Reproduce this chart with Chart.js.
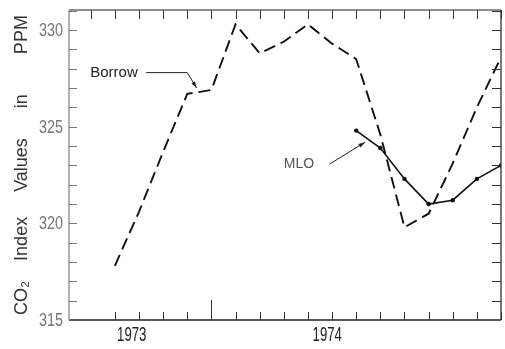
<!DOCTYPE html>
<html>
<head>
<meta charset="utf-8">
<script src="https://cdn.jsdelivr.net/npm/chart.js@4.4.0/dist/chart.umd.min.js"></script>
<style>
  html, body { margin: 0; padding: 0; background: #fff; }
  #wrap { width: 505px; height: 349px; }
</style>
</head>
<body>
<div id="wrap"><canvas id="co2-chart"></canvas></div>
<script>
// one sample per tick mark along the time axis
const samples = [0, 1, 2, 3, 4, 5, 6, 7, 8, 9, 10, 11, 12, 13, 14, 15, 16];
const borrow = [317.8, 320.6, 323.7, 326.7, 326.9, 330.3, 328.8, 329.4, 330.3, 329.3,
                328.5, 324.6, 319.8, 320.5, 323.1, 326.0, 328.6];
const mlo = [null, null, null, null, null, null, null, null, null, null,
             324.8, 323.9, 322.3, 321.0, 321.2, 322.3, 323.0];
const yearLabels = ['1973', '1974'];
const yearTicks = [0.7, 8.8];
const yLabelled = [315, 320, 325, 330];

const toPoints = vals => samples.map((s, i) => ({ x: s, y: vals[i] })).filter(p => p.y !== null);

// label callouts, anchored in axis units
const callouts = [
  { text: 'Borrow', textAt: [0.95, 327.8], path: [[1.3, 327.8], [3.0, 327.8], [3.39, 327.0]], font: '15px "Liberation Sans"', color: '#222' },
  { text: 'MLO', textAt: [8.26, 323.07], path: [[8.9, 323.07], [10.37, 324.2]], font: '14px "Liberation Sans"', color: '#555' }
];

function arrowHead(ctx, x0, y0, x1, y1) {
  const ang = Math.atan2(y1 - y0, x1 - x0);
  ctx.beginPath();
  ctx.moveTo(x1, y1);
  ctx.lineTo(x1 - 7 * Math.cos(ang - 0.3), y1 - 7 * Math.sin(ang - 0.3));
  ctx.lineTo(x1 - 7 * Math.cos(ang + 0.3), y1 - 7 * Math.sin(ang + 0.3));
  ctx.closePath();
  ctx.fill();
}

// narrow lettering like the original typeset labels
function squeezedText(ctx, text, px, py, sx, align) {
  ctx.save();
  ctx.translate(px, py);
  ctx.scale(sx, 1);
  ctx.textAlign = align;
  ctx.fillText(text, 0, 0);
  ctx.restore();
}

const frame = {
  id: 'frame',
  afterDatasetsDraw(chart) {
    const { ctx, chartArea: a, scales: { x, y } } = chart;
    ctx.save();
    // box
    ctx.lineWidth = 1.2;
    ctx.strokeStyle = '#222';
    ctx.beginPath();
    ctx.moveTo(a.left, a.top); ctx.lineTo(a.right, a.top);
    ctx.moveTo(a.right, a.top); ctx.lineTo(a.right, a.bottom);
    ctx.stroke();
    ctx.lineWidth = 1.5;
    ctx.beginPath();
    ctx.moveTo(a.left, a.bottom); ctx.lineTo(a.right, a.bottom);
    ctx.stroke();
    ctx.strokeStyle = '#999';
    ctx.beginPath();
    ctx.moveTo(a.left, a.top); ctx.lineTo(a.left, a.bottom);
    ctx.stroke();

    // inward ticks, time axis
    ctx.lineWidth = 1;
    ctx.strokeStyle = '#333';
    for (let t = Math.ceil(x.min); t <= x.max; t++) {
      const px = Math.round(x.getPixelForValue(t)) + 0.5;
      ctx.beginPath();
      ctx.moveTo(px, a.top); ctx.lineTo(px, a.top + 9);
      if (t >= 0) {
        ctx.moveTo(px, a.bottom); ctx.lineTo(px, a.bottom - (t === 4 ? 20 : 8));
      }
      ctx.stroke();
    }
    // inward ticks, ppm axis
    for (let v = Math.ceil(y.min) + 1; v <= y.max; v++) {
      const py = Math.round(y.getPixelForValue(v)) + 0.5;
      ctx.strokeStyle = '#777';
      ctx.beginPath();
      ctx.moveTo(a.left, py); ctx.lineTo(a.left + 8, py);
      ctx.stroke();
      ctx.strokeStyle = '#333';
      ctx.beginPath();
      ctx.moveTo(a.right, py); ctx.lineTo(a.right - 9, py);
      ctx.stroke();
    }

    // tick labels
    ctx.textBaseline = 'middle';
    ctx.font = '20px "Liberation Sans", sans-serif';
    ctx.fillStyle = '#222';
    yearLabels.forEach((lab, i) => {
      squeezedText(ctx, lab, x.getPixelForValue(yearTicks[i]), a.bottom + 15, 0.66, 'center');
    });
    ctx.font = '18px "Liberation Sans", sans-serif';
    ctx.fillStyle = '#777';
    yLabelled.forEach(v => {
      squeezedText(ctx, String(v), a.left - 6, y.getPixelForValue(v) + 1, 0.8, 'right');
    });

    // callouts
    callouts.forEach(c => {
      ctx.font = c.font;
      ctx.fillStyle = c.color;
      ctx.textAlign = 'right';
      ctx.textBaseline = 'middle';
      ctx.fillText(c.text, x.getPixelForValue(c.textAt[0]), y.getPixelForValue(c.textAt[1]));
      const pts = c.path.map(p => [x.getPixelForValue(p[0]), y.getPixelForValue(p[1])]);
      ctx.strokeStyle = '#222';
      ctx.fillStyle = '#222';
      ctx.lineWidth = 1;
      ctx.beginPath();
      pts.forEach((p, i) => i ? ctx.lineTo(p[0], p[1]) : ctx.moveTo(p[0], p[1]));
      ctx.stroke();
      const n = pts.length;
      arrowHead(ctx, pts[n - 2][0], pts[n - 2][1], pts[n - 1][0], pts[n - 1][1]);
    });
    ctx.restore();
  }
};

new Chart(document.getElementById('co2-chart'), {
  type: 'line',
  data: {
    datasets: [
      {
        label: 'Borrow',
        data: toPoints(borrow),
        borderColor: '#111',
        borderWidth: 1.9,
        borderDash: [12, 6],
        pointRadius: 0,
        tension: 0
      },
      {
        label: 'MLO',
        data: toPoints(mlo),
        borderColor: '#111',
        borderWidth: 1.6,
        pointRadius: 2.2,
        pointBackgroundColor: '#111',
        pointBorderWidth: 0,
        tension: 0
      }
    ]
  },
  options: {
    responsive: true,
    maintainAspectRatio: false,
    animation: false,
    layout: { padding: { top: 10, right: 3, left: 0, bottom: 0 } },
    plugins: {
      legend: { display: false },
      tooltip: { enabled: false }
    },
    scales: {
      x: {
        type: 'linear',
        min: -1.9,
        max: 16,
        grid: { display: false, drawTicks: false },
        border: { display: false },
        ticks: { display: false },
        afterFit: s => { s.height = 29; s.paddingLeft = 0; s.paddingRight = 0; }
      },
      y: {
        min: 315,
        max: 331.04,
        grid: { display: false, drawTicks: false },
        border: { display: false },
        ticks: { display: false },
        afterFit: s => { s.width = 69; s.paddingTop = 0; s.paddingBottom = 0; },
        title: {
          display: true,
          text: 'CO\u2082    Index     Values      in        PPM',
          color: '#333',
          padding: { top: 11, bottom: 0 },
          font: { family: '"Liberation Sans", sans-serif', size: 18 }
        }
      }
    }
  },
  plugins: [frame]
});
</script>
</body>
</html>
